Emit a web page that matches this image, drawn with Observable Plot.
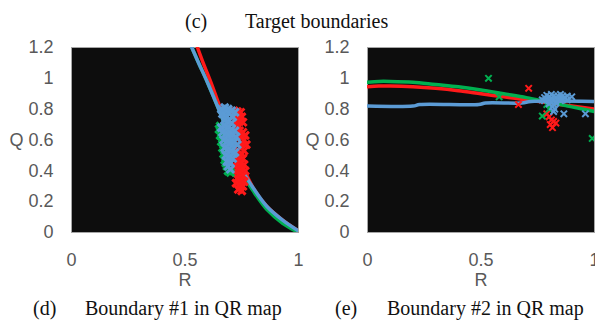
<!DOCTYPE html>
<html>
<head>
<meta charset="utf-8">
<script src="https://cdn.jsdelivr.net/npm/d3@7"></script>
<script src="https://cdn.jsdelivr.net/npm/@observablehq/plot@0.6"></script>
<style>
  html, body { margin: 0; padding: 0; background: #fff; }
  #wrap { position: relative; width: 595px; height: 320px; overflow: hidden; background: #fff; }
  .cap { position: absolute; font-family: "Liberation Serif", "Times New Roman", serif; font-size: 20px; line-height: 20px; color: #111; white-space: nowrap; }
  .panel { position: absolute; top: 0; }
</style>
</head>
<body>
<div id="wrap">
  <div class="cap" style="left:185px;top:11px;">(c)</div>
  <div class="cap" style="left:245px;top:11px;">Target boundaries</div>
  <div class="panel" id="left" style="left:0px;"></div>
  <div class="panel" id="right" style="left:296px;"></div>
  <div class="cap" style="left:33px;top:298px;">(d)</div>
  <div class="cap" style="left:85px;top:298px;">Boundary #1 in QR map</div>
  <div class="cap" style="left:335px;top:298px;">(e)</div>
  <div class="cap" style="left:387px;top:298px;">Boundary #2 in QR map</div>
</div>
<script>
// ---- tick labels ----
const xTicks = [0, 0.5, 1];
const yTicks = [0, 0.2, 0.4, 0.6, 0.8, 1, 1.2];

// ---- panel (d): Boundary #1, fitted curves ----
const d_red_R   = [0.555, 0.58, 0.615, 0.65, 0.68, 0.71, 0.73, 0.76, 0.80, 0.86, 0.93, 1.00];
const d_red_Q   = [1.20, 1.10, 0.97, 0.83, 0.72, 0.61, 0.51, 0.41, 0.29, 0.17, 0.08, 0.01];
const d_green_R = [0.53, 0.56, 0.60, 0.64, 0.67, 0.70, 0.72, 0.75, 0.80, 0.86, 0.93, 1.00];
const d_green_Q = [1.20, 1.10, 0.97, 0.83, 0.72, 0.60, 0.50, 0.39, 0.27, 0.15, 0.06, 0.00];
const d_blue_R  = [0.53, 0.56, 0.60, 0.64, 0.67, 0.70, 0.72, 0.75, 0.80, 0.86, 0.93, 1.00];
const d_blue_Q  = [1.20, 1.10, 0.97, 0.83, 0.72, 0.61, 0.51, 0.41, 0.29, 0.17, 0.08, 0.01];

// ---- panel (d): measured points ----
const d_redPts_R = [0.715, 0.73, 0.745, 0.72, 0.735, 0.75, 0.725, 0.74, 0.755, 0.73,
                    0.74, 0.755, 0.765, 0.745, 0.76, 0.75, 0.77, 0.745, 0.76, 0.75, 0.74, 0.755,
                    0.73, 0.745, 0.76, 0.72, 0.735, 0.75, 0.765, 0.725, 0.74, 0.755, 0.73, 0.745, 0.76, 0.725, 0.74, 0.755, 0.735, 0.75];
const d_redPts_Q = [0.79, 0.785, 0.78, 0.76, 0.755, 0.75, 0.73, 0.72, 0.715, 0.70,
                    0.66, 0.65, 0.63, 0.62, 0.60, 0.58, 0.57, 0.55, 0.53, 0.51, 0.49, 0.48,
                    0.46, 0.45, 0.44, 0.43, 0.42, 0.41, 0.40, 0.39, 0.38, 0.37, 0.35, 0.34, 0.33, 0.32, 0.31, 0.30, 0.28, 0.27];
const d_greenPts_R = [0.655, 0.65, 0.66, 0.655, 0.665, 0.66, 0.67, 0.665, 0.675, 0.67, 0.68, 0.675, 0.68, 0.685, 0.69, 0.70];
const d_greenPts_Q = [0.69, 0.67, 0.65, 0.63, 0.61, 0.59, 0.57, 0.55, 0.53, 0.51, 0.49, 0.47, 0.45, 0.43, 0.40, 0.39];
const d_bluePts_R = [0.66, 0.675, 0.69, 0.705, 0.72, 0.665, 0.68, 0.695, 0.71, 0.675, 0.69, 0.705,
                     0.66, 0.675, 0.69, 0.705, 0.72, 0.665, 0.68, 0.695, 0.71, 0.725, 0.67, 0.685, 0.70, 0.715, 0.73,
                     0.675, 0.69, 0.705, 0.72, 0.68, 0.695, 0.71, 0.685, 0.70, 0.69, 0.70];
const d_bluePts_Q = [0.80, 0.81, 0.80, 0.79, 0.78, 0.77, 0.76, 0.77, 0.75, 0.73, 0.72, 0.71,
                     0.68, 0.69, 0.68, 0.67, 0.66, 0.65, 0.64, 0.63, 0.635, 0.62, 0.60, 0.59, 0.58, 0.585, 0.57,
                     0.55, 0.54, 0.53, 0.52, 0.50, 0.49, 0.48, 0.46, 0.45, 0.43, 0.41];

// ---- panel (e): Boundary #2, fitted curves ----
const e_green_R = [0, 0.05, 0.1, 0.2, 0.3, 0.4, 0.5, 0.6, 0.7, 0.8, 0.9, 1.0];
const e_green_Q = [0.975, 0.98, 0.98, 0.975, 0.96, 0.945, 0.925, 0.90, 0.875, 0.845, 0.815, 0.785];
const e_red_R   = [0, 0.05, 0.1, 0.2, 0.3, 0.4, 0.5, 0.6, 0.7, 0.8, 0.9, 1.0];
const e_red_Q   = [0.945, 0.95, 0.95, 0.945, 0.935, 0.92, 0.90, 0.88, 0.86, 0.84, 0.82, 0.80];
const e_blue_R  = [0, 0.2, 0.23, 0.49, 0.52, 0.68, 0.72, 1.0];
const e_blue_Q  = [0.82, 0.82, 0.83, 0.83, 0.84, 0.84, 0.85, 0.85];

// ---- panel (e): measured points ----
const e_redPts_R = [0.71, 0.665, 0.80, 0.81, 0.82, 0.805, 0.815, 0.83, 0.79];
const e_redPts_Q = [0.935, 0.83, 0.75, 0.73, 0.72, 0.70, 0.68, 0.71, 0.77];
const e_greenPts_R = [0.533, 0.77, 0.99, 0.58, 0.80, 0.79];
const e_greenPts_Q = [1.00, 0.755, 0.61, 0.88, 0.80, 0.83];
const e_bluePts_R = [0.77, 0.78, 0.79, 0.80, 0.81, 0.82, 0.83, 0.84, 0.85, 0.86, 0.87, 0.88,
                     0.78, 0.79, 0.80, 0.81, 0.82, 0.83, 0.84, 0.85, 0.86,
                     0.80, 0.81, 0.82, 0.83, 0.815, 0.825, 0.82, 0.865, 0.96, 0.90, 0.88];
const e_bluePts_Q = [0.86, 0.875, 0.89, 0.88, 0.895, 0.885, 0.875, 0.885, 0.895, 0.885, 0.875, 0.885,
                     0.855, 0.865, 0.855, 0.87, 0.86, 0.85, 0.865, 0.855, 0.865,
                     0.835, 0.845, 0.83, 0.84, 0.815, 0.80, 0.785, 0.77, 0.77, 0.88, 0.86];

// ---- colours ----
const RED = "#ff1a1a", GREEN = "#00b050", BLUE = "#5b9bd5";

const pts = (R, Q) => R.map((r, i) => ({R: r, Q: Q[i]}));

function panel(lines, dots, markerR, markerW) {
  return Plot.plot({
    width: 299, height: 300,
    marginTop: 47, marginLeft: 71, marginRight: 1, marginBottom: 68,
    style: {fontFamily: "Liberation Sans, Arial, sans-serif", fontSize: "18px", color: "#595959", background: "transparent", overflow: "visible"},
    x: {domain: [0, 1], ticks: xTicks, tickFormat: d => String(d), tickSize: 0, tickPadding: 21, label: null},
    y: {domain: [0, 1.2], ticks: yTicks, tickFormat: d => String(d), tickSize: 0, tickPadding: 18, label: null},
    marks: [
      Plot.frame({fill: "#0d0d0d", stroke: "#a6a6a6"}),
      ...lines.map(([R, Q, c]) => Plot.line(pts(R, Q), {x: "R", y: "Q", stroke: c, strokeWidth: 3.5, curve: "catmull-rom", clip: true})),
      ...dots.map(([R, Q, c]) => Plot.dot(pts(R, Q), {x: "R", y: "Q", stroke: c, symbol: "times", r: markerR, strokeWidth: markerW, clip: true})),
      Plot.text(["Q"], {text: d => d, frameAnchor: "left", dx: -55, textAnchor: "middle", fontSize: 18, fill: "#595959"}),
      Plot.text(["R"], {text: d => d, frameAnchor: "bottom", dy: 53, textAnchor: "middle", fontSize: 18, fill: "#595959"})
    ]
  });
}

document.getElementById("left").append(panel(
  [[d_red_R, d_red_Q, RED], [d_green_R, d_green_Q, GREEN], [d_blue_R, d_blue_Q, BLUE]],
  [[d_redPts_R, d_redPts_Q, RED], [d_greenPts_R, d_greenPts_Q, GREEN], [d_bluePts_R, d_bluePts_Q, BLUE]],
  3.5, 3
));

document.getElementById("right").append(panel(
  [[e_red_R, e_red_Q, RED], [e_green_R, e_green_Q, GREEN], [e_blue_R, e_blue_Q, BLUE]],
  [[e_redPts_R, e_redPts_Q, RED], [e_greenPts_R, e_greenPts_Q, GREEN], [e_bluePts_R, e_bluePts_Q, BLUE]],
  3, 2
));
</script>
</body>
</html>
